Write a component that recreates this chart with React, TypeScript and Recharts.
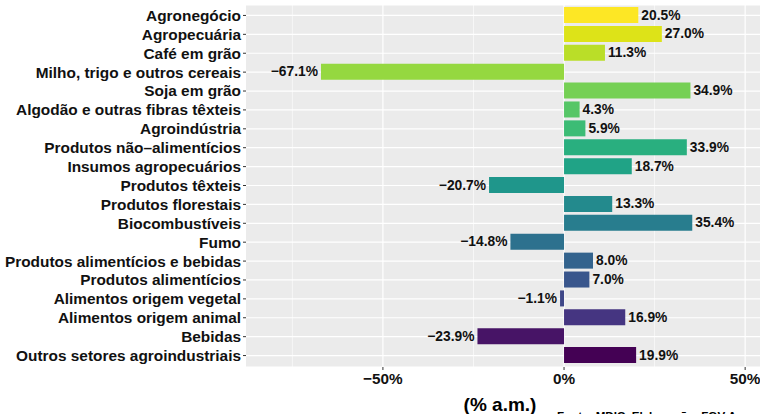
import { BarChart, Bar, XAxis, YAxis, CartesianGrid, Cell, LabelList } from 'recharts'

const categories = [
  'Agronegócio',
  'Agropecuária',
  'Café em grão',
  'Milho, trigo e outros cereais',
  'Soja em grão',
  'Algodão e outras fibras têxteis',
  'Agroindústria',
  'Produtos não–alimentícios',
  'Insumos agropecuários',
  'Produtos têxteis',
  'Produtos florestais',
  'Biocombustíveis',
  'Fumo',
  'Produtos alimentícios e bebidas',
  'Produtos alimentícios',
  'Alimentos origem vegetal',
  'Alimentos origem animal',
  'Bebidas',
  'Outros setores agroindustriais',
]

const values = [20.5, 27.0, 11.3, -67.1, 34.9, 4.3, 5.9, 33.9, 18.7, -20.7, 13.3, 35.4, -14.8, 8.0, 7.0, -1.1, 16.9, -23.9, 19.9]

// viridis, reversed (yellow on top)
const colors = [
  '#FDE725', '#DDE318', '#BADE28', '#95D840', '#75D054', '#56C667', '#3CBC75',
  '#29AF7F', '#20A386', '#1F968B', '#238A8D', '#287D8E', '#2D718E', '#33638D',
  '#39568C', '#3F4788', '#453581', '#471466', '#440154',
]

const xTicks = [-50, 0, 50]
const minorTicks = [-75, -25, 25]

const data = categories.map((name, i) => ({ name, value: values[i] }))

const FONT = '"Liberation Sans", Arial, Helvetica, sans-serif'

const fmtPct = (v: number, digits = 0) => `${v < 0 ? '−' : ''}${Math.abs(v).toFixed(digits)}%`

function ValueLabel(props: any) {
  const { x, y, width, height, value } = props
  const left = Math.min(x, x + width)
  const right = Math.max(x, x + width)
  const neg = value < 0
  return (
    <text
      x={neg ? left - 3 : right + 3}
      y={y + height / 2}
      textAnchor={neg ? 'end' : 'start'}
      dominantBaseline="central"
      fontFamily={FONT}
      fontWeight="bold"
      fontSize={13.8}
      fill="#111"
    >
      {fmtPct(value, 1)}
    </text>
  )
}

function AxisTitle(props: any) {
  const { viewBox } = props
  return (
    <g>
      <text x={viewBox.x + viewBox.width / 2 - 3} y={411} textAnchor="middle" fontFamily={FONT} fontWeight="bold" fontSize={19} fill="#000">
        (% a.m.)
      </text>
      <text x={557} y={420} textAnchor="start" fontFamily={FONT} fontWeight="bold" fontSize={11.6} fill="#000">
        Fonte: MDIC. Elaboração: FGV Agro
      </text>
    </g>
  )
}

export default function App() {
  return (
    <div style={{ position: 'absolute', left: 0, top: 0, width: 760, height: 414, background: '#fff' }}>
      <BarChart
        width={760}
        height={414}
        data={data}
        layout="vertical"
        margin={{ top: 5, right: 0, bottom: 0, left: 0 }}
      >
        <CartesianGrid
          fill="#EBEBEB"
          stroke="#fff"
          strokeWidth={0.6}
          horizontal={false}
          verticalValues={minorTicks}
        />
        <CartesianGrid stroke="#fff" strokeWidth={1.2} verticalValues={xTicks} />
        <XAxis
          type="number"
          domain={[-87.8, 54.1]}
          allowDataOverflow
          ticks={xTicks}
          tickFormatter={(v: number) => fmtPct(v)}
          axisLine={false}
          tickLine={{ stroke: '#333' }}
          tickSize={3}
          tickMargin={3}
          height={47}
          tick={{ fontSize: 15.3, fontWeight: 'bold', fill: '#111', fontFamily: FONT }}
          label={<AxisTitle />}
        />
        <YAxis
          type="category"
          dataKey="name"
          width={246}
          padding={{ top: 1, bottom: 2 }}
          axisLine={false}
          tickLine={{ stroke: '#333' }}
          tickSize={3}
          tickMargin={2}
          interval={0}
          tick={{ fontSize: 15.4, fontWeight: 'bold', fill: '#111', fontFamily: FONT }}
        />
        <Bar dataKey="value" barSize={16} isAnimationActive={false}>
          {data.map((d, i) => (
            <Cell key={d.name} fill={colors[i]} />
          ))}
          <LabelList dataKey="value" content={<ValueLabel />} />
        </Bar>
      </BarChart>
    </div>
  )
}
